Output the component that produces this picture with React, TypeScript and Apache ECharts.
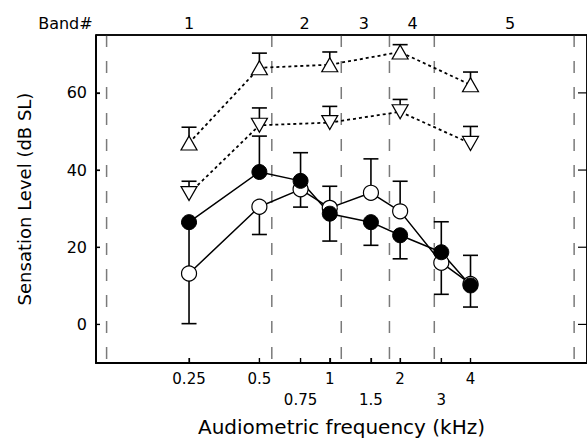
import React, { useEffect, useRef } from 'react';
import * as echarts from 'echarts';

const FONT = 'DejaVu Sans';

// Audiometric frequencies (kHz)
const freqs = [0.25, 0.5, 0.75, 1, 1.5, 2, 3, 4];
// Filled circles
const filledValues = [26.5, 39.5, 37.2, 28.7, 26.5, 23.1, 18.7, 10.1];
const filledUpper = [null, 48.8, 44.5, null, null, null, 26.6, 17.9];
const filledLower = [null, null, null, 21.6, 20.5, 17.0, null, 4.5];
// Open circles
const openValues = [13.2, 30.5, 35.0, 30.2, 34.1, 29.3, 16.0, 10.5];
const openUpper = [26.2, null, null, 35.8, 42.9, 37.1, null, null];
const openLower = [0.2, 23.3, 30.4, null, null, null, 7.8, null];

// Triangles
const triFreqs = [0.25, 0.5, 1, 2, 4];
const upTriValues = [47.0, 66.5, 67.3, 70.6, 62.1];
const upTriUpper = [51.1, 70.3, 70.6, 72.5, 65.4];
const downTriValues = [33.9, 51.6, 52.3, 55.1, 46.9];
const downTriUpper = [37.1, 56.1, 56.5, 58.3, 51.3];

// Bands
const bandEdges = [0.111, 0.565, 1.12, 1.8, 2.8, 11.1];
const bandLabels = ['Band#', '1', '2', '3', '4', '5'];
const bandLabelFreqs = [0.074, 0.25, 0.78, 1.4, 2.26, 5.9];

// Ticks
const xTickValues = [0.25, 0.5, 0.75, 1, 1.5, 2, 3, 4];
const xLowerRowTicks = [0.75, 1.5, 3];
const yTickValues = [0, 20, 40, 60];

const Y_MIN = -10;
const Y_MAX = 75;
const X_MIN = 0.1;
const X_MAX = 12.6;

function errData(xs: number[], vals: number[], up: (number | null)[], lo: (number | null)[]) {
  return xs.map((f, i) => [f, vals[i], up[i] == null ? NaN : up[i], lo[i] == null ? NaN : lo[i]]);
}

function errorBarSeries(data: number[][]) {
  return {
    type: 'custom',
    z: 2,
    encode: { x: 0, y: 1 },
    data,
    renderItem: (params: any, api: any) => {
      const f = api.value(0);
      const v = api.value(1);
      const p = api.coord([f, v]);
      const cap = 7.5;
      const children: any[] = [];
      [api.value(2), api.value(3)].forEach((end: number) => {
        if (end == null || isNaN(end)) return;
        const q = api.coord([f, end]);
        children.push({ type: 'line', shape: { x1: p[0], y1: p[1], x2: q[0], y2: q[1] }, style: { stroke: '#000', lineWidth: 1.6 } });
        children.push({ type: 'line', shape: { x1: q[0] - cap, y1: q[1], x2: q[0] + cap, y2: q[1] }, style: { stroke: '#000', lineWidth: 1.6 } });
      });
      return { type: 'group', children };
    },
  };
}

function lineSeries(xs: number[], vals: number[], opts: any) {
  return {
    type: 'line',
    z: 3,
    data: xs.map((f, i) => [f, vals[i]]),
    ...opts,
  };
}

export default function App() {
  const ref = useRef<HTMLDivElement>(null);
  useEffect(() => {
    document.body.style.margin = '0';
    const chart = echarts.init(ref.current!, null, { renderer: 'svg' });
    const option: any = {
      animation: false,
      textStyle: { fontFamily: FONT },
      grid: {
        left: 96,
        top: 35,
        right: -4,
        bottom: 79,
        show: true,
        borderColor: '#000',
        borderWidth: 1.5,
      },
      xAxis: {
        type: 'log',
        min: X_MIN,
        max: X_MAX,
        axisLine: { show: true, onZero: false, lineStyle: { color: '#000', width: 2 } },
        splitLine: { show: false },
        axisTick: { show: true, inside: true, length: 5, customValues: xTickValues, lineStyle: { color: '#000', width: 1.2 } },
        axisLabel: {
          customValues: xTickValues,
          fontSize: 15,
          color: '#000',
          fontFamily: FONT,
          margin: 5,
          lineHeight: 21,
          formatter: (v: number) => {
            const s = String(Math.round(v * 100) / 100);
            return xLowerRowTicks.some((t) => Math.abs(t - v) < 1e-6) ? '\n' + s : s;
          },
        },
        name: 'Audiometric frequency (kHz)',
        nameLocation: 'middle',
        nameGap: 54,
        nameTextStyle: { fontSize: 20, color: '#000', fontFamily: FONT },
      },
      yAxis: {
        type: 'value',
        min: Y_MIN,
        max: Y_MAX,
        axisLine: { show: true, onZero: false, lineStyle: { color: '#000', width: 1.5 } },
        splitLine: { show: false },
        axisTick: { show: true, inside: true, length: 4, customValues: yTickValues, lineStyle: { color: '#000', width: 1.2 } },
        axisLabel: { customValues: yTickValues, fontSize: 16, color: '#000', fontFamily: FONT, margin: 9 },
        name: 'Sensation Level (dB SL)',
        nameLocation: 'middle',
        nameGap: 63,
        nameTextStyle: { fontSize: 18, color: '#000', fontFamily: FONT },
      },
      series: [
        // band boundaries
        {
          type: 'custom',
          z: 1,
          encode: { x: 0 },
          data: bandEdges.map((f) => [f]),
          renderItem: (params: any, api: any) => {
            const f = api.value(0);
            const top = api.coord([f, Y_MAX]);
            const bot = api.coord([f, Y_MIN]);
            return {
              type: 'line',
              shape: { x1: top[0], y1: top[1], x2: bot[0], y2: bot[1] },
              style: { stroke: '#7a7a7a', lineWidth: 1.5, lineDash: [12, 14] },
            };
          },
        },
        errorBarSeries(errData(freqs, filledValues, filledUpper, filledLower)),
        errorBarSeries(errData(freqs, openValues, openUpper, openLower)),
        errorBarSeries(errData(triFreqs, upTriValues, upTriUpper, triFreqs.map(() => null))),
        errorBarSeries(errData(triFreqs, downTriValues, downTriUpper, triFreqs.map(() => null))),
        lineSeries(triFreqs, upTriValues, {
          symbol: 'triangle',
          symbolSize: [16, 14],
          lineStyle: { color: '#000', width: 1.8, type: [3, 3] },
          itemStyle: { color: '#fff', borderColor: '#000', borderWidth: 1.2 },
        }),
        lineSeries(triFreqs, downTriValues, {
          symbol: 'triangle',
          symbolRotate: 180,
          symbolSize: [16, 14],
          lineStyle: { color: '#000', width: 1.8, type: [3, 3] },
          itemStyle: { color: '#fff', borderColor: '#000', borderWidth: 1.2 },
        }),
        lineSeries(freqs, openValues, {
          symbol: 'circle',
          symbolSize: 15,
          lineStyle: { color: '#000', width: 1.5 },
          itemStyle: { color: '#fff', borderColor: '#000', borderWidth: 1.2 },
        }),
        lineSeries(freqs, filledValues, {
          symbol: 'circle',
          symbolSize: 15,
          lineStyle: { color: '#000', width: 1.5 },
          itemStyle: { color: '#000', borderColor: '#000', borderWidth: 1 },
        }),
        // band labels
        {
          type: 'custom',
          z: 4,
          encode: { x: 0 },
          data: bandLabelFreqs.map((f, i) => [f, i]),
          renderItem: (params: any, api: any) => {
            const f = api.value(0);
            const idx = api.value(1);
            const p = api.coord([f, Y_MAX]);
            return {
              type: 'text',
              x: p[0],
              y: p[1] - 12,
              style: {
                text: bandLabels[idx],
                fontSize: 16,
                fontFamily: FONT,
                fill: '#000',
                align: 'center',
                verticalAlign: 'middle',
              },
            };
          },
        },
      ],
    };
    chart.setOption(option);

    // Frame and inward ticks as graphic elements, positioned through the grid's scales.
    const px = (x: number, y: number) => chart.convertToPixel({ gridIndex: 0 }, [x, y]) as number[];
    const bl = px(X_MIN, Y_MIN);
    const tr = px(X_MAX, Y_MAX);
    const ln = (x1: number, y1: number, x2: number, y2: number, w: number) => ({
      type: 'line',
      z: 100,
      silent: true,
      shape: { x1, y1, x2, y2 },
      style: { stroke: '#000', lineWidth: w },
    });
    const elements: any[] = [
      ln(bl[0], bl[1], tr[0], bl[1], 2),
      ln(bl[0], tr[1], tr[0], tr[1], 1.5),
      ln(bl[0], bl[1], bl[0], tr[1], 1.5),
      ln(tr[0], bl[1], tr[0], tr[1], 1.5),
    ];
    yTickValues.forEach((v) => {
      const y = px(X_MIN, v)[1];
      elements.push(ln(bl[0], y, bl[0] + 4, y, 1.2));
      elements.push(ln(tr[0], y, tr[0] - 9, y, 1.2));
    });
    xTickValues.forEach((f) => {
      const x = px(f, Y_MIN)[0];
      elements.push(ln(x, bl[1], x, bl[1] - 5, 1.2));
    });
    chart.setOption({ graphic: elements });

    return () => chart.dispose();
  }, []);
  return <div ref={ref} style={{ width: 587, height: 442 }} />;
}
